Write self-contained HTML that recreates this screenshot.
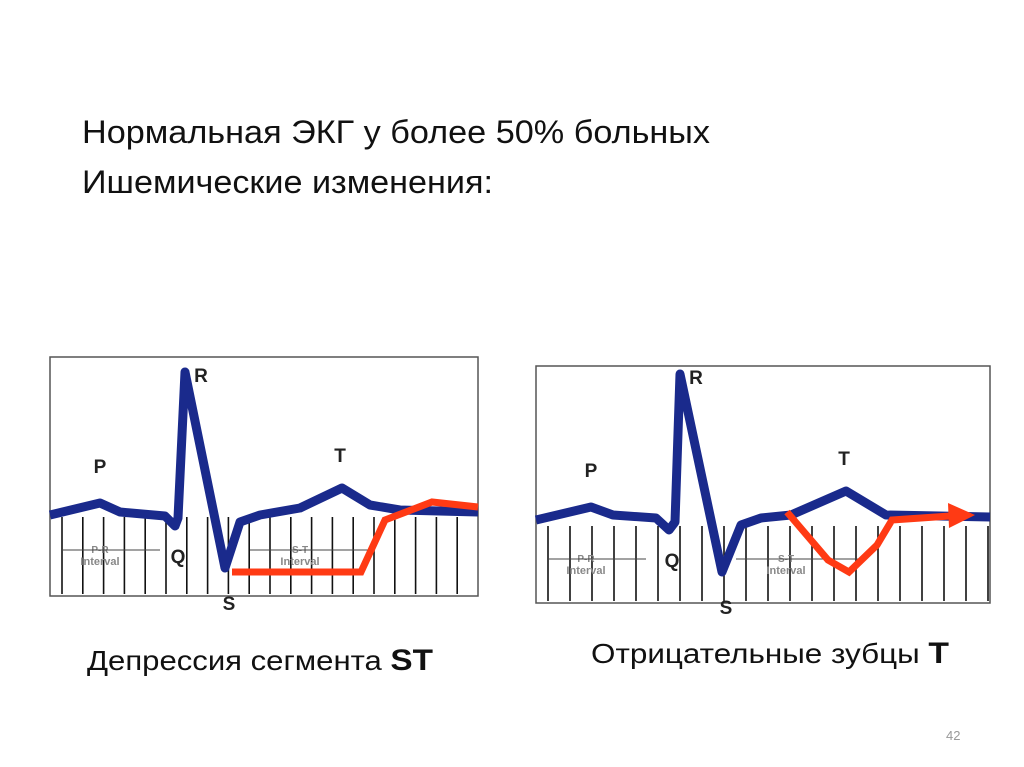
<!DOCTYPE html>
<html><head><meta charset="utf-8"><style>
html,body{margin:0;padding:0;background:#fff;}
svg{display:block;font-family:"Liberation Sans","Noto Sans CJK SC",sans-serif;}
</style></head><body>
<svg id="s" width="1024" height="767" viewBox="0 0 1024 767">
<text x="82" y="143" font-size="32" textLength="628" lengthAdjust="spacingAndGlyphs" fill="#111">Нормальная ЭКГ у более 50% больных</text>
<text x="82" y="193" font-size="32" textLength="411" lengthAdjust="spacingAndGlyphs" fill="#111">Ишемические изменения:</text>
<g id="left"></g>
<g id="right"></g>
<text x="87" y="670" font-size="28" textLength="346" lengthAdjust="spacingAndGlyphs" fill="#111">Депрессия сегмента <tspan font-weight="bold" font-size="30">ST</tspan></text>
<text x="591" y="663" font-size="28" textLength="358" lengthAdjust="spacingAndGlyphs" fill="#111">Отрицательные зубцы <tspan font-weight="bold" font-size="30">T</tspan></text>
<text x="946" y="740" font-size="13" fill="#999">42</text>
</svg>
<script>
// Left panel data (pixel-space offsets within panel)
const leftTraceX=[0,50,70,115,125,128,135,175,190,210,250,292,320,350,428];
const leftTraceY=[158,146,155,159,169,161,15,211,165,158,151,131,148,153,155];
const leftRedX=[182,311,335,382,428];
const leftRedY=[215,215,163,145,150];
const rightTraceX=[0,55,77,120,133,139,144,186,205,225,255,310,350,454];
const rightTraceY=[154,141,149,152,164,156,8,206,159,152,149,125,149,151];
const rightRedX=[251,292,313,341,356,414];
const rightRedY=[146,194,206,179,154,150];
const NS='http://www.w3.org/2000/svg';
function mk(tag,attrs,parent){const e=document.createElementNS(NS,tag);for(const k in attrs)e.setAttribute(k,attrs[k]);parent.appendChild(e);return e;}
function panel(g,ox,oy,w,h,tx,ty,rx,ry,step,start,negT){
  const sx=v=>ox+v, sy=v=>oy+v;
  const box=mk('rect',{x:ox,y:oy,width:w,height:h,fill:'#fff',stroke:'#555','stroke-width':1.5},g);
  
  
  for(let x=start;x<w;x+=step){
    const l=mk('line',{x1:sx(x),x2:sx(x),y1:sy(160),y2:sy(h-2),stroke:'#111','stroke-width':1.6},g);
    
    
  }
  const lab=(t,x,y,s,c)=>{const e=mk('text',{x:sx(x),y:sy(y),'font-size':s,fill:c||'#222','font-weight':'bold','text-anchor':'middle'},g);e.textContent=t;return e;};
  const a1=lab('P-R',50,196,10,'#888');
  const a2=lab('Interval',50,208,11,'#888');
  const a3=lab('S-T',250,196,10,'#888');
  const a4=lab('Interval',250,208,11,'#888');
  const ar1=mk('line',{x1:sx(12),x2:sx(110),y1:sy(193),y2:sy(193),stroke:'#444','stroke-width':1},g);
  
  const ar2=mk('line',{x1:sx(200),x2:sx(325),y1:sy(193),y2:sy(193),stroke:'#444','stroke-width':1},g);
  
  const p=mk('polyline',{points:tx.map((x,i)=>sx(x)+','+sy(ty[i])).join(' '),fill:'none',stroke:'#1a2a8c','stroke-width':9,'stroke-linejoin':'round','stroke-linecap':'butt'},g);
  
  
  const r=mk('polyline',{points:rx.map((x,i)=>sx(x)+','+sy(ry[i])).join(' '),fill:'none',stroke:'#ff3a14','stroke-width':7,'stroke-linejoin':'miter'},g);
  
  
  if(negT){
    const lx=sx(rx[rx.length-1]),ly=sy(ry[ry.length-1]);
    const ah=mk('polygon',{points:(lx-2)+','+(ly-13)+' '+(lx+25)+','+(ly-1)+' '+(lx-1)+','+(ly+12),fill:'#ff3a14'},g);
    
    
  }
  const peaks=[['P',tx[1],ty[1]-30],['R',tx[6]+16,ty[6]+10],['Q',tx[4]+3,ty[4]+37],['S',tx[7]+4,ty[7]+42],['T',tx[11]-2,ty[11]-26]];
  peaks.forEach(pk=>{const e=lab(pk[0],pk[1],pk[2],19);});
}
panel(document.getElementById('left'),50,357,428,239,leftTraceX,leftTraceY,leftRedX,leftRedY,20.8,12,false);
panel(document.getElementById('right'),536,366,454,237,rightTraceX,rightTraceY,rightRedX,rightRedY,22,12,true);
</script>
</body></html>
